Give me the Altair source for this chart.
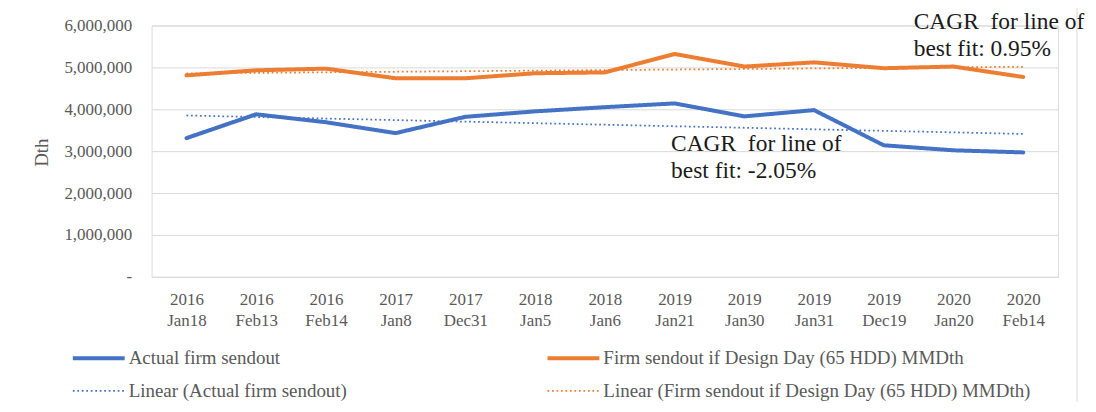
import json
import altair as alt
import pandas as pd

# ---- data ----
years = ["2016", "2016", "2016", "2017", "2017", "2018", "2018",
         "2019", "2019", "2019", "2019", "2020", "2020"]
days = ["Jan18", "Feb13", "Feb14", "Jan8", "Dec31", "Jan5", "Jan6",
        "Jan21", "Jan30", "Jan31", "Dec19", "Jan20", "Feb14"]
actual = [3310000, 3880000, 3690000, 3430000, 3820000, 3950000, 4050000,
          4140000, 3830000, 3980000, 3140000, 3020000, 2970000]
design = [4810000, 4930000, 4970000, 4740000, 4740000, 4860000, 4880000,
          5320000, 5020000, 5120000, 4980000, 5020000, 4770000]

S_ACT = "Actual firm sendout"
S_DES = "Firm sendout if Design Day (65 HDD) MMDth"
T_ACT = "Linear (Actual firm sendout)"
T_DES = "Linear (Firm sendout if Design Day (65 HDD) MMDth)"

ann_text = ["CAGR\u00a0 for line of\nbest fit: 0.95%",
            "CAGR\u00a0 for line of\nbest fit: -2.05%"]
ann_idx = [10.43, 6.95]
ann_value = [6360000, 3457000]

# ---- tables ----
rows = []
for i in range(len(days)):
    rows.append({"idx": i, "series": S_ACT, "trend": T_ACT, "value": actual[i]})
    rows.append({"idx": i, "series": S_DES, "trend": T_DES, "value": design[i]})
df = pd.DataFrame(rows)
ann = pd.DataFrame({"idx": ann_idx, "value": ann_value, "text": ann_text})

labels = [[y, d] for y, d in zip(years, days)]
label_expr = json.dumps(labels) + "[datum.value]"

FONT = "Liberation Serif"
GREY = "#595959"
BLUE = "#4472C4"
ORANGE = "#ED7D31"
# legend fills column by column: left column = actual pair, right = design pair
domain = [S_ACT, T_ACT, S_DES, T_DES]

legend = alt.Legend(
    title=None, orient="none", legendX=-62.5, legendY=324, columns=2,
    columnPadding=192, rowPadding=13, padding=0,
    symbolType="M-5.2,0H5.2", symbolSize=100, labelOffset=20.5,
    labelFont=FONT, labelFontSize=19, labelColor=GREY, labelLimit=600,
)

color = alt.Color("name:N", scale=alt.Scale(domain=domain,
                  range=[BLUE, BLUE, ORANGE, ORANGE]), legend=legend)
dash = alt.StrokeDash("name:N", scale=alt.Scale(domain=domain,
                      range=[[1, 0], [1.75, 2.75], [1, 0], [1.75, 2.75]]), legend=legend)
width = alt.StrokeWidth("name:N", scale=alt.Scale(type="ordinal", domain=domain,
                        range=[4, 1.75, 4, 1.75]), legend=legend)

x = alt.X("idx:Q", scale=alt.Scale(domain=[-0.5, 12.5], nice=False, zero=False),
          axis=alt.Axis(values=list(range(len(days))), labelExpr=label_expr,
                        grid=False, ticks=False, domain=False, title=None,
                        labelFont=FONT, labelFontSize=17, labelColor=GREY,
                        labelLineHeight=21, labelPadding=15,
                        labelFlush=False, labelOverlap=False))
y = alt.Y("value:Q", scale=alt.Scale(domain=[0, 6000000], nice=False),
          axis=alt.Axis(values=[0, 1000000, 2000000, 3000000, 4000000, 5000000, 6000000],
                        labelExpr="datum.value == 0 ? '-' : format(datum.value, ',')",
                        grid=True, gridColor="#d9d9d9", gridWidth=1,
                        ticks=False, domain=False, labelPadding=20,
                        labelFont=FONT, labelFontSize=17, labelColor=GREY,
                        title="Dth", titleFont=FONT, titleFontSize=19,
                        titleColor=GREY, titleFontWeight="normal",
                        titleX=-110, titleY=127, titleBaseline="middle"))

base = alt.Chart(df)

lines = base.mark_line(strokeCap="round", strokeJoin="round").transform_calculate(
    name="datum.series"
).encode(x=x, y=y, color=color, strokeDash=dash, strokeWidth=width, detail="name:N")

trend = base.transform_regression(
    "idx", "value", groupby=["trend"]
).transform_calculate(
    name="datum.trend"
).mark_line().encode(x=x, y=y, color=color, strokeDash=dash, strokeWidth=width,
                     detail="name:N")

notes = alt.Chart(ann).mark_text(
    align="left", baseline="top", font=FONT, fontSize=23.5, color="#1a1a1a",
    lineBreak="\n", lineHeight=27
).encode(x="idx:Q", y="value:Q", text="text:N")

border = alt.Chart(alt.Data(values=[{}])).mark_rect(
    fillOpacity=0, stroke="#d9d9d9", strokeWidth=1
).encode(x=alt.value(-160), x2=alt.value(928), y=alt.value(-20), y2=alt.value(420))

chart = alt.layer(border, lines, trend, notes).properties(
    width=909, height=252,
    autosize=alt.AutoSizeParams(type="none"),
    padding={"left": 144, "top": 17, "right": 30, "bottom": 125},
).configure_view(stroke=None).configure(font=FONT)

chart.save("out.html", embed_options={"renderer": "svg", "actions": False})
